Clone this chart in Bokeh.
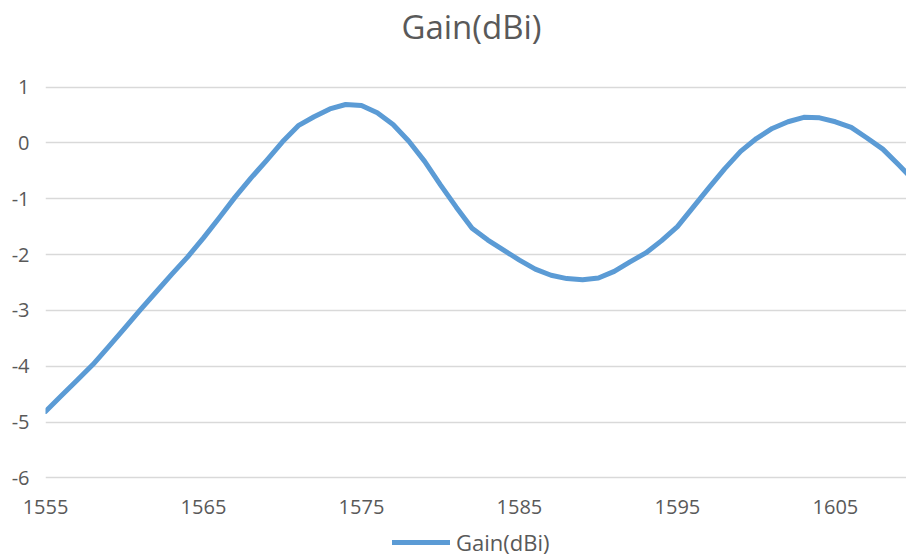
from bokeh.plotting import figure
from bokeh.layouts import column
from bokeh.models import ColumnDataSource, FixedTicker, Range1d, Legend, LegendItem, Label
from bokeh.embed import file_html
from bokeh.resources import INLINE

freq = list(range(1555, 1611))
gain = [-4.81, -4.53, -4.25, -3.97, -3.65, -3.32, -2.99, -2.67, -2.35, -2.04,
        -1.70, -1.34, -0.97, -0.63, -0.31, 0.02, 0.31, 0.47, 0.61, 0.69,
        0.67, 0.54, 0.33, 0.03, -0.33, -0.75, -1.15, -1.53, -1.74, -1.92,
        -2.10, -2.26, -2.37, -2.43, -2.45, -2.42, -2.30, -2.13, -1.97, -1.75,
        -1.50, -1.15, -0.80, -0.46, -0.15, 0.08, 0.26, 0.38, 0.46, 0.45,
        0.38, 0.28, 0.09, -0.11, -0.39, -0.68]
x_ticks = [1555, 1565, 1575, 1585, 1595, 1605]
y_ticks = [-6, -5, -4, -3, -2, -1, 0, 1]
series_name = "Gain(dBi)"
chart_title = "Gain(dBi)"

FONT = "Open Sans"
GREY = "#595959"
BLUE = "#5B9BD5"
LEFT = 45
FW = 861
TOP_H = 55
BOTTOM_B = 45
LEG_H = 33


def bare(height):
    f = figure(frame_width=FW, frame_height=height, output_backend="svg",
               toolbar_location=None, x_axis_type=None, y_axis_type=None,
               x_range=Range1d(0, 1), y_range=Range1d(0, 1),
               min_border_left=LEFT, min_border_right=0,
               min_border_top=0, min_border_bottom=0)
    f.outline_line_color = None
    f.xgrid.visible = False
    f.ygrid.visible = False
    return f


# title strip
p0 = bare(TOP_H)
p0.add_layout(Label(x=471 - LEFT, y=TOP_H - 25.5, x_units="screen", y_units="screen",
                    text=chart_title, text_align="center", text_baseline="middle",
                    text_font=FONT, text_font_size="33px", text_color=GREY))

# main chart
p = figure(frame_width=FW, frame_height=394, output_backend="svg",
           toolbar_location=None,
           x_range=Range1d(1555, 1609.5), y_range=Range1d(-6.03, 1.03),
           min_border_left=LEFT, min_border_right=0, min_border_top=85 - TOP_H,
           min_border_bottom=BOTTOM_B)
p.outline_line_color = None

src = ColumnDataSource(dict(x=freq, y=gain))
p.line("x", "y", source=src, line_color=BLUE, line_width=5,
       line_join="round", line_cap="round")

p.xaxis.ticker = FixedTicker(ticks=x_ticks)
p.yaxis.ticker = FixedTicker(ticks=y_ticks)
p.yaxis.major_label_overrides = {float(v): str(v) for v in y_ticks}
for ax in (p.xaxis, p.yaxis):
    ax.axis_line_color = None
    ax.major_tick_line_color = None
    ax.minor_tick_line_color = None
    ax.major_tick_out = 0
    ax.major_tick_in = 0
    ax.major_label_text_font = FONT
    ax.major_label_text_font_size = "20px"
    ax.major_label_text_color = GREY
p.xaxis.major_label_standoff = 20
p.yaxis.major_label_standoff = 16

p.xgrid.grid_line_color = None
p.ygrid.grid_line_color = "#D9D9D9"
p.ygrid.grid_line_width = 1.5

# legend strip (series drawn off-range so only the legend swatch shows)
p2 = bare(LEG_H)
swatch = p2.line(x=freq, y=gain, line_color=BLUE, line_width=5, line_cap="round")
legend = Legend(items=[LegendItem(label=series_name, renderers=[swatch])],
                orientation="horizontal", margin=0, padding=0,
                location=(392 - LEFT, 0),
                border_line_color=None, background_fill_alpha=0,
                label_text_font=FONT, label_text_font_size="22px",
                label_text_color=GREY, glyph_width=58, glyph_height=20,
                label_standoff=6)
p2.add_layout(legend)

layout = column(p0, p, p2, spacing=0)
open("out.html", "w").write(file_html(layout, INLINE))
